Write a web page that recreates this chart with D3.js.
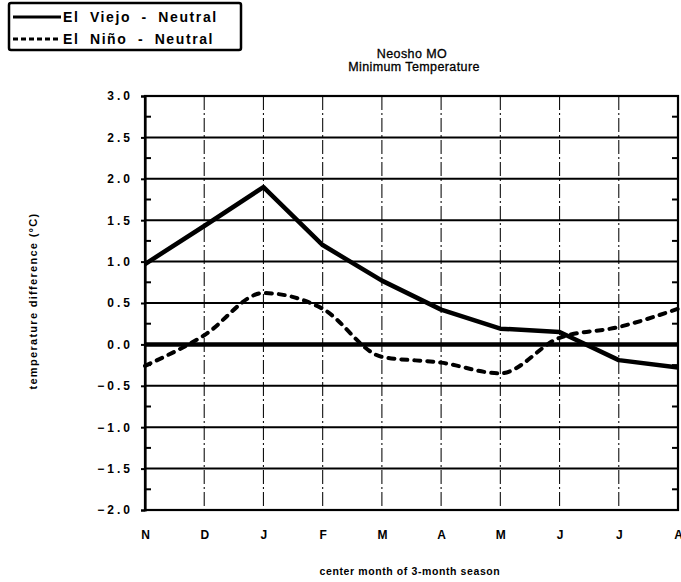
<!DOCTYPE html>
<html>
<head>
<meta charset="utf-8">
<script src="https://cdn.jsdelivr.net/npm/d3@7"></script>
<style>
  body { margin: 0; background: #fff; }
  svg { display: block; font-family: "Liberation Sans", Arial, sans-serif; }
</style>
</head>
<body>
<div id="chart"></div>
<script>
// center month of 3-month season
var months = ["N", "D", "J", "F", "M", "A", "M", "J", "J", "A"];
// temperature difference (deg C)
var elViejo = [0.97, 1.43, 1.90, 1.20, 0.77, 0.42, 0.19, 0.15, -0.19, -0.28];
var elNino = [-0.26, 0.11, 0.62, 0.43, -0.15, -0.22, -0.35, 0.08, 0.21, 0.43];
var yTicks = [3.0, 2.5, 2.0, 1.5, 1.0, 0.5, 0.0, -0.5, -1.0, -1.5, -2.0];
var yMinor = [2.75, 2.25, 1.75, 1.25, 0.75, 0.25, -0.25, -0.75, -1.25, -1.75];

var width = 681, height = 582;
// plot box (named so as not to clash with window.top)
var plot = { left: 145, right: 678, top: 96, bottom: 510 };

var svg = d3.select("#chart").append("svg")
    .attr("width", width)
    .attr("height", height);

var x = d3.scalePoint()
    .domain(d3.range(months.length))
    .range([plot.left, plot.right]);

var y = d3.scaleLinear()
    .domain([-2, 3])
    .range([plot.bottom, plot.top]);

// vertical dash-dot grid
svg.append("g")
  .selectAll("line")
  .data(d3.range(1, months.length - 1))
  .enter().append("line")
    .attr("x1", function(d) { return x(d); })
    .attr("x2", function(d) { return x(d); })
    .attr("y1", plot.top)
    .attr("y2", plot.bottom)
    .attr("stroke", "#111")
    .attr("stroke-width", 1.1)
    .attr("stroke-dasharray", "14,3,2,3");

// horizontal grid
svg.append("g")
  .selectAll("line")
  .data(yTicks)
  .enter().append("line")
    .attr("x1", plot.left)
    .attr("x2", plot.right)
    .attr("y1", function(d) { return y(d); })
    .attr("y2", function(d) { return y(d); })
    .attr("stroke", "#000")
    .attr("stroke-width", function(d) { return d === 0 ? 4.5 : 2; });

// y axis (left), labels
var yAxis = d3.axisLeft(y)
    .tickValues(yTicks)
    .tickSize(4)
    .tickFormat(d3.format(".1f"));

var gy = svg.append("g")
    .attr("transform", "translate(" + plot.left + ",0)")
    .call(yAxis);
gy.select(".domain").attr("stroke-width", 2.2);
gy.selectAll("line").attr("stroke-width", 2);
gy.selectAll("text")
    .attr("font-size", 12)
    .attr("font-weight", "bold")
    .attr("letter-spacing", 3)
    .attr("x", -12)
    .attr("fill", "#000");

// minor ticks, inside left and right
var minor = svg.append("g");
minor.selectAll(".ml")
  .data(yMinor)
  .enter().append("line")
    .attr("class", "ml")
    .attr("x1", plot.left)
    .attr("x2", plot.left + 6)
    .attr("y1", function(d) { return y(d); })
    .attr("y2", function(d) { return y(d); })
    .attr("stroke", "#000")
    .attr("stroke-width", 2);
minor.selectAll(".mr")
  .data(yMinor)
  .enter().append("line")
    .attr("class", "mr")
    .attr("x1", plot.right - 6)
    .attr("x2", plot.right)
    .attr("y1", function(d) { return y(d); })
    .attr("y2", function(d) { return y(d); })
    .attr("stroke", "#000")
    .attr("stroke-width", 2);

// frame
svg.append("rect")
    .attr("x", plot.left)
    .attr("y", plot.top)
    .attr("width", plot.right - plot.left)
    .attr("height", plot.bottom - plot.top)
    .attr("fill", "none")
    .attr("stroke", "#000")
    .attr("stroke-width", 2.2);

// x axis labels
var xAxis = d3.axisBottom(x)
    .tickSize(0)
    .tickFormat(function(d) { return months[d]; });

var gx = svg.append("g")
    .attr("transform", "translate(0," + plot.bottom + ")")
    .call(xAxis);
gx.select(".domain").remove();
gx.selectAll("text")
    .attr("font-size", 12)
    .attr("font-weight", "bold")
    .attr("y", 20)
    .attr("fill", "#000");

// series
var line = d3.line()
    .x(function(d, i) { return x(i); })
    .y(function(d) { return y(d); });

var smoothLine = d3.line()
    .x(function(d, i) { return x(i); })
    .y(function(d) { return y(d); })
    .curve(d3.curveMonotoneX);

svg.append("path")
    .datum(elNino)
    .attr("d", smoothLine)
    .attr("fill", "none")
    .attr("stroke", "#000")
    .attr("stroke-width", 4)
    .attr("stroke-linecap", "round")
    .attr("stroke-linejoin", "round")
    .attr("stroke-dasharray", "6,7");

svg.append("path")
    .datum(elViejo)
    .attr("d", line)
    .attr("fill", "none")
    .attr("stroke", "#000")
    .attr("stroke-width", 4.5)
    .attr("stroke-linejoin", "round");

// titles
svg.append("text")
    .attr("x", 412)
    .attr("y", 58)
    .attr("text-anchor", "middle")
    .attr("font-size", 12.5)
    .attr("letter-spacing", 0.4)
    .attr("stroke", "#000")
    .attr("stroke-width", 0.3)
    .text("Neosho MO");
svg.append("text")
    .attr("x", 414)
    .attr("y", 71)
    .attr("text-anchor", "middle")
    .attr("font-size", 12.5)
    .attr("letter-spacing", 0.4)
    .attr("stroke", "#000")
    .attr("stroke-width", 0.3)
    .text("Minimum Temperature");

svg.append("text")
    .attr("transform", "translate(37," + 301 + ") rotate(-90)")
    .attr("text-anchor", "middle")
    .attr("font-size", 11)
    .attr("font-weight", "bold")
    .attr("letter-spacing", 1.3)
    .text("temperature difference (°C)");

svg.append("text")
    .attr("x", 410)
    .attr("y", 575)
    .attr("text-anchor", "middle")
    .attr("font-size", 10.5)
    .attr("font-weight", "bold")
    .attr("letter-spacing", 0.6)
    .text("center month of 3-month season");

// legend
var legend = svg.append("g");
legend.append("rect")
    .attr("x", 9)
    .attr("y", 3)
    .attr("width", 232)
    .attr("height", 47)
    .attr("rx", 2)
    .attr("fill", "#fff")
    .attr("stroke", "#000")
    .attr("stroke-width", 2.5);

var legendItems = [
  { name: "El Viejo - Neutral", dash: null, y: 17 },
  { name: "El Niño - Neutral", dash: "5,3", y: 39 }
];
legendItems.forEach(function(item) {
  legend.append("line")
      .attr("x1", 13)
      .attr("x2", 61)
      .attr("y1", item.y)
      .attr("y2", item.y)
      .attr("stroke", "#000")
      .attr("stroke-width", 2.8)
      .attr("stroke-dasharray", item.dash);
  legend.append("text")
      .attr("x", 63)
      .attr("y", item.y + 5)
      .attr("font-size", 14)
      .attr("font-weight", "bold")
      .attr("letter-spacing", 1.6)
      .attr("word-spacing", 5)
      .text(item.name);
});
</script>
</body>
</html>
